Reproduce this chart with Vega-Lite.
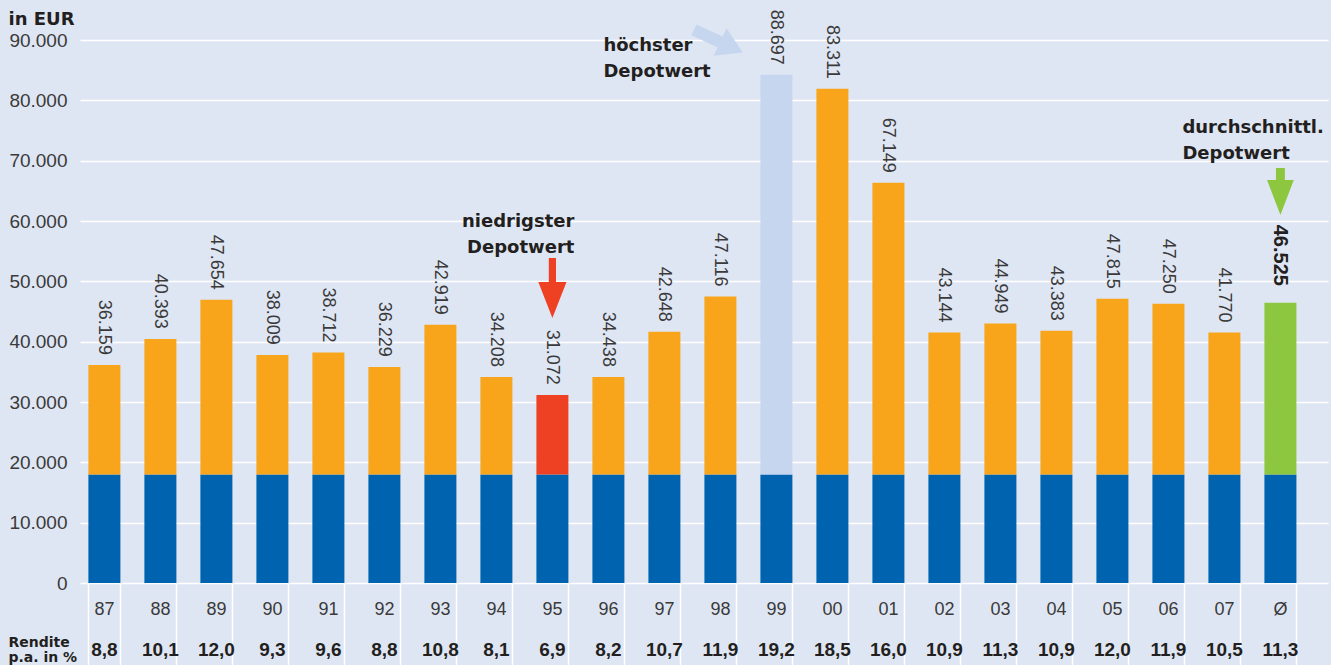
{
  "$schema": "https://vega.github.io/schema/vega-lite/v6.json",
  "background": "#dfe6f3",
  "padding": {"left": 8, "top": 9, "right": 3, "bottom": 0},
  "spacing": 0,
  "bounds": "flush",
  "config": {
    "view": {"stroke": null},
    "locale": {"number": {"decimal": ",", "thousands": ".", "grouping": [3], "currency": ["", " €"]}}
  },
  "datasets": {
    "depot": [
      {"jahr": "87", "depotwert": 36159, "balken": 36150, "einzahlung": 18000, "rendite": 8.8, "typ": "normal"},
      {"jahr": "88", "depotwert": 40393, "balken": 40460, "einzahlung": 18000, "rendite": 10.1, "typ": "normal"},
      {"jahr": "89", "depotwert": 47654, "balken": 46930, "einzahlung": 18000, "rendite": 12.0, "typ": "normal"},
      {"jahr": "90", "depotwert": 38009, "balken": 37810, "einzahlung": 18000, "rendite": 9.3, "typ": "normal"},
      {"jahr": "91", "depotwert": 38712, "balken": 38190, "einzahlung": 18000, "rendite": 9.6, "typ": "normal"},
      {"jahr": "92", "depotwert": 36229, "balken": 35820, "einzahlung": 18000, "rendite": 8.8, "typ": "normal"},
      {"jahr": "93", "depotwert": 42919, "balken": 42790, "einzahlung": 18000, "rendite": 10.8, "typ": "normal"},
      {"jahr": "94", "depotwert": 34208, "balken": 34160, "einzahlung": 18000, "rendite": 8.1, "typ": "normal"},
      {"jahr": "95", "depotwert": 31072, "balken": 31180, "einzahlung": 18000, "rendite": 6.9, "typ": "min"},
      {"jahr": "96", "depotwert": 34438, "balken": 34160, "einzahlung": 18000, "rendite": 8.2, "typ": "normal"},
      {"jahr": "97", "depotwert": 42648, "balken": 41630, "einzahlung": 18000, "rendite": 10.7, "typ": "normal"},
      {"jahr": "98", "depotwert": 47116, "balken": 47480, "einzahlung": 18000, "rendite": 11.9, "typ": "normal"},
      {"jahr": "99", "depotwert": 88697, "balken": 84250, "einzahlung": 18000, "rendite": 19.2, "typ": "max"},
      {"jahr": "00", "depotwert": 83311, "balken": 81920, "einzahlung": 18000, "rendite": 18.5, "typ": "normal"},
      {"jahr": "01", "depotwert": 67149, "balken": 66330, "einzahlung": 18000, "rendite": 16.0, "typ": "normal"},
      {"jahr": "02", "depotwert": 43144, "balken": 41510, "einzahlung": 18000, "rendite": 10.9, "typ": "normal"},
      {"jahr": "03", "depotwert": 44949, "balken": 43000, "einzahlung": 18000, "rendite": 11.3, "typ": "normal"},
      {"jahr": "04", "depotwert": 43383, "balken": 41790, "einzahlung": 18000, "rendite": 10.9, "typ": "normal"},
      {"jahr": "05", "depotwert": 47815, "balken": 47100, "einzahlung": 18000, "rendite": 12.0, "typ": "normal"},
      {"jahr": "06", "depotwert": 47250, "balken": 46270, "einzahlung": 18000, "rendite": 11.9, "typ": "normal"},
      {"jahr": "07", "depotwert": 41770, "balken": 41510, "einzahlung": 18000, "rendite": 10.5, "typ": "normal"},
      {"jahr": "Ø", "depotwert": 46525, "balken": 46430, "einzahlung": 18000, "rendite": 11.3, "typ": "avg"}
    ]
  },
  "vconcat": [
    {
      "width": 1248,
      "height": 543,
      "data": {"name": "depot"},
      "layer": [
        {
          "mark": {"type": "bar", "color": "#0063af"},
          "encoding": {
            "x": {"field": "jahr", "type": "nominal", "sort": null, "axis": null,
                  "scale": {"domain": ["87","88","89","90","91","92","93","94","95","96","97","98","99","00","01","02","03","04","05","06","07","Ø"], "paddingInner": 0.4286, "paddingOuter": 0.357, "align": 0.21}},
            "y": {"field": "einzahlung", "type": "quantitative",
                  "scale": {"domain": [0, 90000], "nice": false},
                  "axis": {"title": "in EUR", "titleAngle": 0, "titleAlign": "left", "titleBaseline": "alphabetic", "titleX": -72, "titleY": -16,
                           "titleFont": "DejaVu Sans", "titleFontWeight": "bold", "titleFontSize": 18, "titleColor": "#231f20",
                           "values": [0, 10000, 20000, 30000, 40000, 50000, 60000, 70000, 80000, 90000], "format": ",d",
                           "labelFont": "Liberation Sans", "labelFontSize": 19, "labelColor": "#3a3a3a", "labelPadding": 13,
                           "ticks": false, "domain": false, "grid": true, "gridColor": "#ffffff", "gridWidth": 1.5}}
          }
        },
        {
          "mark": {"type": "bar"},
          "encoding": {
            "x": {"field": "jahr", "type": "nominal", "sort": null},
            "y": {"field": "einzahlung", "type": "quantitative"},
            "y2": {"field": "balken"},
            "color": {"field": "typ", "type": "nominal", "legend": null,
                      "scale": {"domain": ["normal", "min", "max", "avg"], "range": ["#f8a51b", "#ee4124", "#c6d6ee", "#8dc63f"]}}
          }
        },
        {
          "transform": [{"filter": "datum.jahr !== 'Ø'"}],
          "mark": {"type": "text", "angle": 90, "align": "right", "baseline": "middle", "dx": -10, "font": "Liberation Sans", "fontSize": 18, "color": "#3a3a3a"},
          "encoding": {
            "x": {"field": "jahr", "type": "nominal", "sort": null},
            "y": {"field": "balken", "type": "quantitative"},
            "text": {"field": "depotwert", "type": "quantitative", "format": ",d"}
          }
        },
        {
          "transform": [{"filter": "datum.jahr === 'Ø'"}],
          "mark": {"type": "text", "angle": 90, "align": "right", "baseline": "middle", "dx": -17, "font": "Liberation Sans", "fontWeight": "bold", "fontSize": 20, "color": "#231f20"},
          "encoding": {
            "x": {"field": "jahr", "type": "nominal", "sort": null},
            "y": {"field": "balken", "type": "quantitative"},
            "text": {"field": "depotwert", "type": "quantitative", "format": ",d"}
          }
        },
        {
          "data": {"values": [{"notiz": "niedrigster\nDepotwert"}]},
          "mark": {"type": "text", "align": "right", "baseline": "alphabetic", "dx": 22, "lineBreak": "\n", "lineHeight": 26, "font": "DejaVu Sans", "fontWeight": "bold", "fontSize": 18, "color": "#231f20"},
          "encoding": {
            "x": {"datum": "95", "type": "nominal"},
            "y": {"datum": 59000, "type": "quantitative"},
            "text": {"field": "notiz"}
          }
        },
        {
          "data": {"values": [{"notiz": "höchster\nDepotwert"}]},
          "mark": {"type": "text", "align": "left", "baseline": "alphabetic", "dx": -5, "lineBreak": "\n", "lineHeight": 26, "font": "DejaVu Sans", "fontWeight": "bold", "fontSize": 18, "color": "#231f20"},
          "encoding": {
            "x": {"datum": "96", "type": "nominal"},
            "y": {"datum": 88200, "type": "quantitative"},
            "text": {"field": "notiz"}
          }
        },
        {
          "data": {"values": [{"notiz": "durchschnittl.\nDepotwert"}]},
          "mark": {"type": "text", "align": "left", "baseline": "alphabetic", "dx": -98, "lineBreak": "\n", "lineHeight": 26, "font": "DejaVu Sans", "fontWeight": "bold", "fontSize": 18, "color": "#231f20"},
          "encoding": {
            "x": {"datum": "Ø", "type": "nominal"},
            "y": {"datum": 74600, "type": "quantitative"},
            "text": {"field": "notiz"}
          }
        },
        {
          "data": {"values": [{"pfeil": "niedrigster"}]},
          "mark": {"type": "point", "filled": true, "opacity": 1, "strokeWidth": 0, "color": "#ee4124", "size": 3600,
                   "shape": "M-0.12,-1L0.12,-1L0.12,-0.2L0.47,-0.2L0,1L-0.47,-0.2L-0.12,-0.2Z"},
          "encoding": {
            "x": {"datum": "95", "type": "nominal"},
            "y": {"datum": 48900, "type": "quantitative"}
          }
        },
        {
          "data": {"values": [{"pfeil": "durchschnittl"}]},
          "mark": {"type": "point", "filled": true, "opacity": 1, "strokeWidth": 0, "color": "#8dc63f", "size": 2209,
                   "shape": "M-0.19,-1L0.19,-1L0.19,-0.49L0.57,-0.49L0,1L-0.57,-0.49L-0.19,-0.49Z"},
          "encoding": {
            "x": {"datum": "Ø", "type": "nominal"},
            "y": {"datum": 64900, "type": "quantitative"}
          }
        },
        {
          "data": {"values": [{"pfeil": "hoechster"}]},
          "mark": {"type": "point", "filled": true, "opacity": 1, "strokeWidth": 0, "color": "#c6d6ee", "size": 2916, "angle": -65,
                   "shape": "M-0.22,-1L0.22,-1L0.22,0.07L0.56,0.07L0,1L-0.56,0.07L-0.22,0.07Z"},
          "encoding": {
            "x": {"datum": "98", "type": "nominal"},
            "xOffset": {"value": 14},
            "y": {"datum": 89800, "type": "quantitative"}
          }
        }
      ]
    },
    {
      "width": 1248,
      "height": 82,
      "data": {"name": "depot"},
      "encoding": {
        "x": {"field": "jahr", "type": "nominal", "sort": null,
              "scale": {"domain": ["87","88","89","90","91","92","93","94","95","96","97","98","99","00","01","02","03","04","05","06","07","Ø"], "paddingInner": 0.4286, "paddingOuter": 0.357, "align": 0.21},
              "axis": {"title": null, "labels": false, "ticks": false, "domain": false, "grid": true, "tickBand": "extent", "gridColor": "#ffffff", "gridWidth": 1.5}},
        "y": {"datum": "Rendite p.a. in %", "type": "nominal",
              "axis": {"title": null, "labelExpr": "['Rendite', 'p.a. in %']", "labelAlign": "left", "labelBaseline": "middle", "labelPadding": 72, "labelOffset": 18,
                       "labelFont": "DejaVu Sans", "labelFontWeight": "bold", "labelFontSize": 14, "labelLineHeight": 15, "labelColor": "#231f20", "labelLimit": 0,
                       "ticks": false, "domain": false, "grid": false}}
      },
      "layer": [
        {
          "mark": {"type": "text", "dy": -14, "font": "Liberation Sans", "fontSize": 18, "color": "#3a3a3a"},
          "encoding": {"text": {"field": "jahr", "type": "nominal"}}
        },
        {
          "mark": {"type": "text", "dy": 26, "font": "Liberation Sans", "fontWeight": "bold", "fontSize": 19, "color": "#231f20"},
          "encoding": {"text": {"field": "rendite", "type": "quantitative", "format": ".1f"}}
        }
      ]
    }
  ]
}
